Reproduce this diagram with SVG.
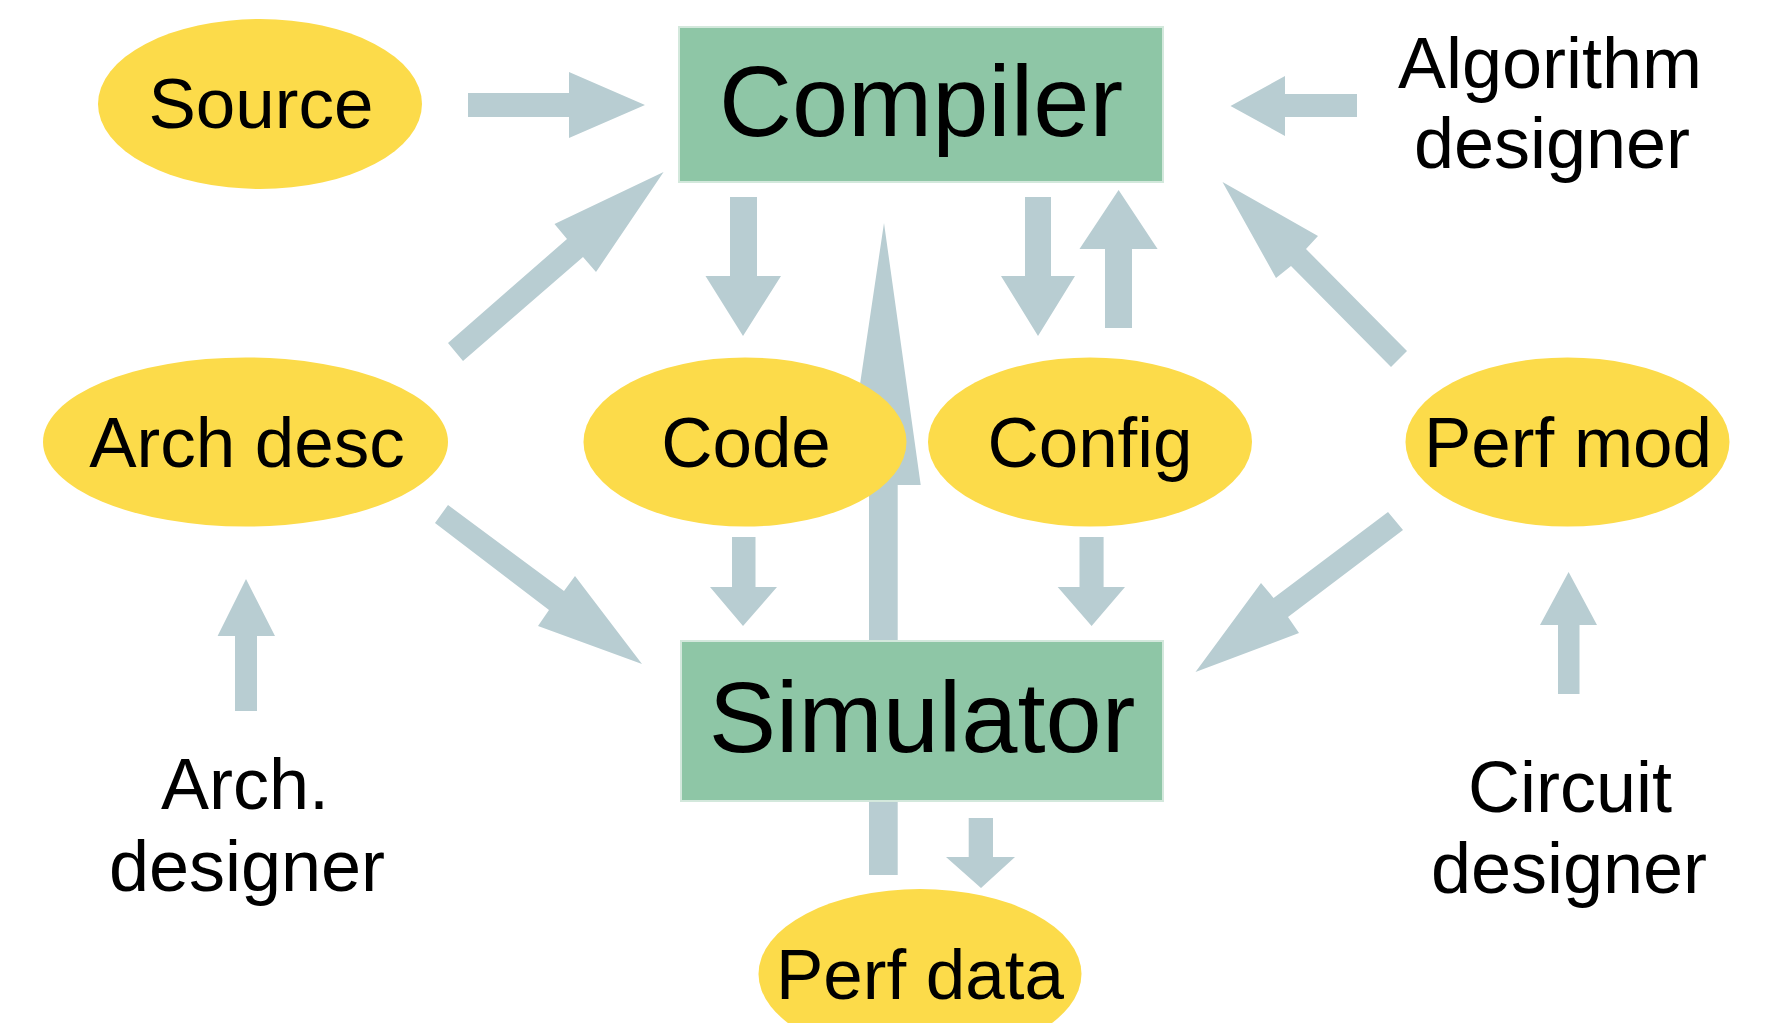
<svg xmlns="http://www.w3.org/2000/svg" width="1770" height="1023" viewBox="0 0 1770 1023">
<style>
.arrow{fill:#B8CDD2}
.box{fill:#8EC6A6;stroke:#D3E8DC;stroke-width:2}
.ell{fill:#FCDB4A}
text{font-family:"Liberation Sans",Arial,sans-serif;fill:#000;text-anchor:middle}
.big{font-size:101px}
.lbl{font-size:71px}
.ppl{font-size:72px}
</style>
<rect width="1770" height="1023" fill="#ffffff"/>
<g id="connectors">
  <!-- Source -> Compiler -->
  <polygon class="arrow" points="468,93 569,93 569,72 645,105 569,138 569,117 468,117"/>
  <!-- Algorithm designer -> Compiler -->
  <polygon class="arrow" points="1357,94 1285,94 1285,76 1230.5,106 1285,136 1285,117 1357,117"/>
  <!-- Compiler -> Code -->
  <polygon class="arrow" points="730,197 757,197 757,276 781,276 743,336 705.5,276 730,276"/>
  <!-- Compiler -> Config -->
  <polygon class="arrow" points="1025,197 1051,197 1051,276 1075,276 1038,336 1001,276 1025,276"/>
  <!-- Config -> Compiler -->
  <polygon class="arrow" points="1105,328 1132,328 1132,249 1157.6,249 1118.6,190 1079.5,249 1105,249"/>
  <!-- Arch desc -> Compiler -->
  <polygon class="arrow" points="448,343 567,239 554.5,224 663.6,172 596,272 583,257 463,361"/>
  <!-- Perf mod -> Compiler -->
  <polygon class="arrow" points="1407,351 1306,249 1318,236 1222.5,182 1276,278 1291,266 1391,367"/>
  <!-- Perf data -> Compiler (long) -->
  <polygon class="arrow" points="869,875 869,485 845,485 884,223 920.7,485 897.7,485 897.7,875"/>
  <!-- Arch desc -> Simulator -->
  <polygon class="arrow" points="448,505 564,591 575,576 642,664 538,626 549,610 435,523"/>
  <!-- Perf mod -> Simulator -->
  <polygon class="arrow" points="1388,512 1273.6,598 1261,583 1195.5,672 1299,633 1288,617 1403,530"/>
  <!-- Code -> Simulator -->
  <polygon class="arrow" points="732,537 755.5,537 755.5,587 777,587 743,626 710,587 732,587"/>
  <!-- Config -> Simulator -->
  <polygon class="arrow" points="1079.5,537 1103.6,537 1103.6,587 1125,587 1091.6,626 1057.7,587 1079.5,587"/>
  <!-- Simulator -> Perf data -->
  <polygon class="arrow" points="968.7,818 993,818 993,857 1015,857 981,888 946,857 968.7,857"/>
  <!-- Arch. designer -> Arch desc -->
  <polygon class="arrow" points="235,711 257,711 257,636 275,636 246,579 217.6,636 235,636"/>
  <!-- Circuit designer -> Perf mod -->
  <polygon class="arrow" points="1558,694 1579.5,694 1579.5,625 1597,625 1568.6,572 1540,625 1558,625"/>
</g>
<g id="compiler">
  <rect class="box" x="679" y="27" width="484" height="155"/>
  <text class="big" x="921" y="136">Compiler</text>
</g>
<g id="simulator">
  <rect class="box" x="681" y="641" width="482" height="160"/>
  <text class="big" x="922" y="752">Simulator</text>
</g>
<g id="source">
  <ellipse class="ell" cx="260" cy="104" rx="162" ry="85"/>
  <text class="lbl" x="261" y="128">Source</text>
</g>
<g id="arch-desc">
  <ellipse class="ell" cx="245.5" cy="442" rx="202.5" ry="84.5"/>
  <text class="lbl" x="247" y="467">Arch desc</text>
</g>
<g id="code">
  <ellipse class="ell" cx="745" cy="442" rx="161.5" ry="84.5"/>
  <text class="lbl" x="746" y="467">Code</text>
</g>
<g id="config">
  <ellipse class="ell" cx="1090" cy="442" rx="162" ry="84.5"/>
  <text class="lbl" x="1090" y="467">Config</text>
</g>
<g id="perf-mod">
  <ellipse class="ell" cx="1567.5" cy="442" rx="162" ry="84.5"/>
  <text class="lbl" x="1568" y="467">Perf mod</text>
</g>
<g id="perf-data">
  <ellipse class="ell" cx="920" cy="974" rx="161.5" ry="85"/>
  <text class="lbl" x="920" y="999">Perf data</text>
</g>
<g id="algorithm-designer">
  <text class="ppl" x="1550" y="88">Algorithm</text>
  <text class="ppl" x="1552" y="168">designer</text>
</g>
<g id="arch-designer">
  <text class="ppl" x="245" y="809">Arch.</text>
  <text class="ppl" x="247" y="891">designer</text>
</g>
<g id="circuit-designer">
  <text class="ppl" x="1570" y="812">Circuit</text>
  <text class="ppl" x="1569" y="893">designer</text>
</g>
</svg>
